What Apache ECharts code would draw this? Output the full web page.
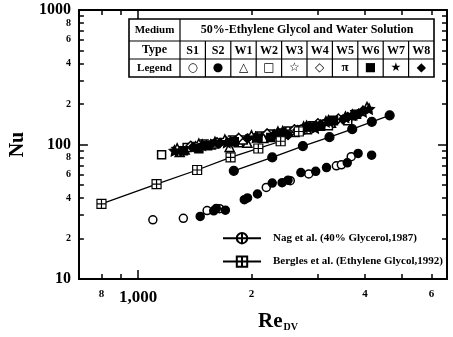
<!DOCTYPE html>
<html>
<head>
<meta charset="utf-8">
<script src="https://cdn.jsdelivr.net/npm/echarts@6/dist/echarts.min.js"></script>
<style>
  html, body { margin: 0; padding: 0; background: #fff; }
  #chart { width: 453px; height: 337px; }
</style>
</head>
<body>
<div id="chart"></div>
<script>
// ---- data (Re_DV, Nu) ----
const bergRe = [800, 1120, 1435, 1760, 2085, 2390, 2670];
const bergNu = [36.2, 50.8, 64.7, 80.2, 93.5, 105.8, 125];
const nagRe = [1795, 2270, 2737, 3220, 3700, 4170, 4650];
const nagNu = [63.8, 80.2, 97.5, 113.5, 130, 147.6, 164.8];

const s1Re = [1095, 1319, 1525, 1646, 2189, 2534, 2837, 3358, 3462, 3677];
const s1Nu = [27.6, 28.3, 32.3, 33.4, 48.0, 53.9, 60.4, 69.5, 70.7, 81.2];
const s2Re = [1462, 1588, 1613, 1705, 1914, 1952, 2074, 2270, 2411, 2500, 2704, 2960, 3162, 3589, 3835, 4165];
const s2Nu = [29.2, 32.2, 33.5, 32.5, 38.9, 40.1, 42.9, 51.7, 52.1, 54.4, 61.9, 63.3, 67.4, 73.1, 85.9, 83.4];

const w1Re = [1290, 1330, 1420, 1560, 1750, 1850, 1950, 2150, 2450, 2600, 2800, 3250, 3700, 4050];
const w1Nu = [88, 92, 97, 100, 96, 104, 103, 112, 122, 124, 130, 145, 165, 190];
const w2Re = [1155, 1350, 1600, 1900, 2250, 2700, 3200, 3600];
const w2Nu = [84, 95, 101, 108, 120, 128, 138, 150];
const w3Re = [1270, 1450, 1700, 2000, 2350, 2750, 3150, 3550, 3950];
const w3Nu = [93, 101, 108, 116, 124, 135, 148, 160, 176];
const w4Re = [1380, 1620, 1850, 2200, 2600, 3000, 3400, 3850];
const w4Nu = [98, 104, 112, 121, 130, 144, 156, 170];
const w5Re = [1500, 1780, 2100, 2500, 2900, 3300, 3750];
const w5Nu = [100, 107, 115, 125, 137, 150, 165];
const w6Re = [1320, 1450, 1530, 1800, 2080, 2250, 2400, 2850, 3050, 3300, 3800];
const w6Nu = [90, 93, 98, 105, 112, 113, 122, 135, 137, 150, 168];
const w7Re = [1250, 1480, 1600, 1720, 2050, 2420, 2800, 2950, 3200, 3700, 4100];
const w7Nu = [90, 99, 104, 104, 113, 125, 137, 133, 150, 166, 184];
const w8Re = [1300, 1400, 1650, 1950, 2300, 2500, 2650, 3050, 3500, 3600, 3950];
const w8Nu = [89, 96, 103, 111, 119, 118, 128, 141, 154, 160, 178];

// ---- axis ticks / labels ----
const xTickValues = [800, 900, 1000, 2000, 3000, 4000, 5000, 6000];
const xLabelValues = [800, 1000, 2000, 4000, 6000];
const xLabelTexts = ['8', '1,000', '2', '4', '6'];
const yTickValues = [20, 30, 40, 50, 60, 70, 80, 90, 200, 300, 400, 500, 600, 700, 800, 900];
const yMajorValues = [10, 100, 1000];
const yLabelValues = [10, 20, 40, 60, 80, 100, 200, 400, 600, 800, 1000];
const yLabelTexts = ['10', '2', '4', '6', '8', '100', '2', '4', '6', '8', '1000'];

const tableTypes = ['S1', 'S2', 'W1', 'W2', 'W3', 'W4', 'W5', 'W6', 'W7', 'W8'];
const tableGlyphs = ['○', '●', '△', '□', '☆', '◇', 'π', '■', '★', '◆'];

const SERIF = '"Liberation Serif", "DejaVu Serif", serif';

const circlePlus = 'path://M10,0A10,10,0,1,1,-10,0A10,10,0,1,1,10,0ZM-10,0L10,0M0,-10L0,10';
const squarePlus = 'path://M-10,-10L10,-10L10,10L-10,10ZM-10,0L10,0M0,-10L0,10';
const starPath = 'path://M0,-10L2.94,-4.05L9.51,-3.09L4.76,1.55L5.88,8.09L0,5L-5.88,8.09L-4.76,1.55L-9.51,-3.09L-2.94,-4.05Z';
const piPath = 'path://M-9,-6L9,-6M-4,-6L-6,8M4,-6L4,8';

const chart = echarts.init(document.getElementById('chart'));

function pairs(re, nu) {
  return re.map((r, i) => [r, nu[i]]);
}

function scatter(name, re, nu, symbol, filled, size) {
  return {
    type: 'scatter',
    name: name,
    data: pairs(re, nu),
    symbol: symbol,
    symbolSize: size,
    itemStyle: {
      color: filled ? '#000' : '#fff',
      borderColor: '#000',
      borderWidth: 1.5,
      opacity: 1
    }
  };
}

function lookup(values, texts, v) {
  for (let i = 0; i < values.length; i++) {
    if (Math.abs(values[i] - v) / values[i] < 1e-6) return texts[i];
  }
  return '';
}

function frameAxis(pos, extra) {
  return Object.assign({
    type: 'log',
    logBase: 10,
    position: pos,
    axisLine: { show: true, lineStyle: { color: '#000', width: 2 } },
    axisTick: { show: true, inside: true, length: 5, lineStyle: { color: '#000', width: 1.5 } },
    axisLabel: { show: false },
    splitLine: { show: false },
    minorTick: { show: false }
  }, extra);
}

// ---- table drawn inside the plot ----
const tL = 129, tR = 434, tT = 19, tB = 77;
const rowY = [41, 59];
const colX = [180];
const colW = (tR - 180) / 10;
for (let i = 1; i <= 9; i++) colX.push(180 + colW * i);

const graphics = [];
graphics.push({
  type: 'rect', shape: { x: tL, y: tT, width: tR - tL, height: tB - tT },
  style: { fill: '#fff', stroke: '#000', lineWidth: 1.6 }, z: 10
});
rowY.forEach(y => graphics.push({
  type: 'line', shape: { x1: tL, y1: y, x2: tR, y2: y },
  style: { stroke: '#000', lineWidth: 1.2 }, z: 11
}));
colX.forEach((x, i) => graphics.push({
  type: 'line', shape: { x1: x, y1: i === 0 ? tT : rowY[0], x2: x, y2: tB },
  style: { stroke: '#000', lineWidth: 1.2 }, z: 11
}));
function cellText(text, x, y, size, font) {
  graphics.push({
    type: 'text', z: 12,
    style: {
      text: text, x: x, y: y, align: 'center', verticalAlign: 'middle',
      fontFamily: font || SERIF, fontWeight: 'bold', fontSize: size, fill: '#000'
    }
  });
}
cellText('Medium', (tL + 180) / 2, (tT + rowY[0]) / 2, 11);
cellText('50%-Ethylene Glycol and Water Solution', (180 + tR) / 2, (tT + rowY[0]) / 2, 12);
cellText('Type', (tL + 180) / 2, (rowY[0] + rowY[1]) / 2, 12);
cellText('Legend', (tL + 180) / 2, (rowY[1] + tB) / 2, 11);
tableTypes.forEach((t, i) => {
  const cx = colX[i] + colW / 2;
  cellText(t, cx, (rowY[0] + rowY[1]) / 2 + 1, 12);
  const g = tableGlyphs[i];
  cellText(g, cx, (rowY[1] + tB) / 2, g === 'π' ? 13 : 12, g === 'π' ? SERIF : '"DejaVu Sans", sans-serif');
});

const nagName = 'Nag et al. (40% Glycerol,1987)';
const bergName = 'Bergles et al. (Ethylene Glycol,1992)';

const option = {
  animation: false,
  backgroundColor: '#fff',
  color: ['#000'],
  grid: { left: 74, right: 6, top: 10, bottom: 55, containLabel: false },
  legend: {
    orient: 'vertical',
    left: 217,
    top: 227,
    itemWidth: 38,
    itemHeight: 13,
    itemGap: 11,
    data: [
      { name: nagName, itemStyle: { color: '#fff' } },
      { name: bergName }
    ],
    textStyle: { fontFamily: SERIF, fontWeight: 'bold', fontSize: 11, color: '#000', padding: [0, 0, 0, 7] }
  },
  xAxis: [
    frameAxis('bottom', {
      min: 697, max: 6600,
      axisTick: { show: true, inside: true, length: 5, customValues: xTickValues, lineStyle: { color: '#000', width: 1.5 } },
      axisLabel: {
        show: true, margin: 10, customValues: xLabelValues,
        formatter: v => {
          const t = lookup(xLabelValues, xLabelTexts, v);
          return t.length > 1 ? '{b|' + t + '}' : '{s|' + t + '}';
        },
        rich: {
          b: { fontFamily: SERIF, fontWeight: 'bold', fontSize: 17, color: '#000' },
          s: { fontFamily: SERIF, fontWeight: 'bold', fontSize: 11, color: '#000' }
        }
      },
      name: '{re|Re}{sub|DV}',
      nameLocation: 'middle',
      nameGap: 30,
      nameTextStyle: {
        padding: [0, 0, 0, 30],
        rich: {
          re: { fontFamily: SERIF, fontWeight: 'bold', fontSize: 21, color: '#000' },
          sub: { fontFamily: SERIF, fontWeight: 'bold', fontSize: 10, color: '#000', verticalAlign: 'bottom', padding: [8, 0, 0, 1] }
        }
      }
    }),
    frameAxis('top', {
      min: 697, max: 6600,
      axisTick: { show: true, inside: true, length: 5, customValues: xTickValues, lineStyle: { color: '#000', width: 1.5 } }
    }),
    frameAxis('bottom', {
      min: 697, max: 6600,
      axisLine: { show: false },
      axisTick: { show: true, inside: true, length: 9, customValues: [1000], lineStyle: { color: '#000', width: 1.5 } }
    }),
    frameAxis('top', {
      min: 697, max: 6600,
      axisLine: { show: false },
      axisTick: { show: true, inside: true, length: 9, customValues: [1000], lineStyle: { color: '#000', width: 1.5 } }
    })
  ],
  yAxis: [
    frameAxis('left', {
      min: 10, max: 1000,
      axisTick: { show: true, inside: true, length: 5, customValues: yTickValues, lineStyle: { color: '#000', width: 1.5 } },
      axisLabel: {
        show: true, margin: 8, customValues: yLabelValues,
        formatter: v => {
          const t = lookup(yLabelValues, yLabelTexts, v);
          return t.length > 1 ? '{b|' + t + '}' : '{s|' + t + '}';
        },
        rich: {
          b: { fontFamily: SERIF, fontWeight: 'bold', fontSize: 16, color: '#000' },
          s: { fontFamily: SERIF, fontWeight: 'bold', fontSize: 10, color: '#000' }
        }
      },
      name: 'Nu',
      nameLocation: 'middle',
      nameRotate: 90,
      nameGap: 44,
      nameTextStyle: { fontFamily: SERIF, fontWeight: 'bold', fontSize: 20, color: '#000' }
    }),
    frameAxis('right', {
      min: 10, max: 1000,
      axisTick: { show: true, inside: true, length: 5, customValues: yTickValues, lineStyle: { color: '#000', width: 1.5 } }
    }),
    frameAxis('left', {
      min: 10, max: 1000,
      axisLine: { show: false },
      axisTick: { show: true, inside: true, length: 9, customValues: yMajorValues, lineStyle: { color: '#000', width: 1.5 } }
    }),
    frameAxis('right', {
      min: 10, max: 1000,
      axisLine: { show: false },
      axisTick: { show: true, inside: true, length: 9, customValues: yMajorValues, lineStyle: { color: '#000', width: 1.5 } }
    })
  ],
  series: [
    scatter('W1', w1Re, w1Nu, 'triangle', false, 9),
    scatter('W2', w2Re, w2Nu, 'rect', false, 8),
    scatter('W3', w3Re, w3Nu, starPath, false, 10),
    scatter('W4', w4Re, w4Nu, 'diamond', false, 9),
    scatter('W5', w5Re, w5Nu, piPath, false, 9),
    scatter('W6', w6Re, w6Nu, 'rect', true, 8),
    scatter('W7', w7Re, w7Nu, starPath, true, 10),
    scatter('W8', w8Re, w8Nu, 'diamond', true, 9),
    scatter('S1', s1Re, s1Nu, 'circle', false, 8),
    scatter('S2', s2Re, s2Nu, 'circle', true, 8),
    {
      type: 'line',
      name: nagName,
      data: pairs(nagRe, nagNu),
      symbol: circlePlus,
      symbolSize: 9,
      showAllSymbol: true,
      lineStyle: { color: '#000', width: 1.3 },
      itemStyle: { color: '#000', borderColor: '#000', borderWidth: 1.2 },
      z: 5
    },
    {
      type: 'line',
      name: bergName,
      data: pairs(bergRe, bergNu),
      symbol: squarePlus,
      symbolSize: 9,
      showAllSymbol: true,
      lineStyle: { color: '#000', width: 1.3 },
      itemStyle: { color: '#fff', borderColor: '#000', borderWidth: 1.2 },
      z: 5
    }
  ],
  graphic: graphics
};

chart.setOption(option);
</script>
</body>
</html>
